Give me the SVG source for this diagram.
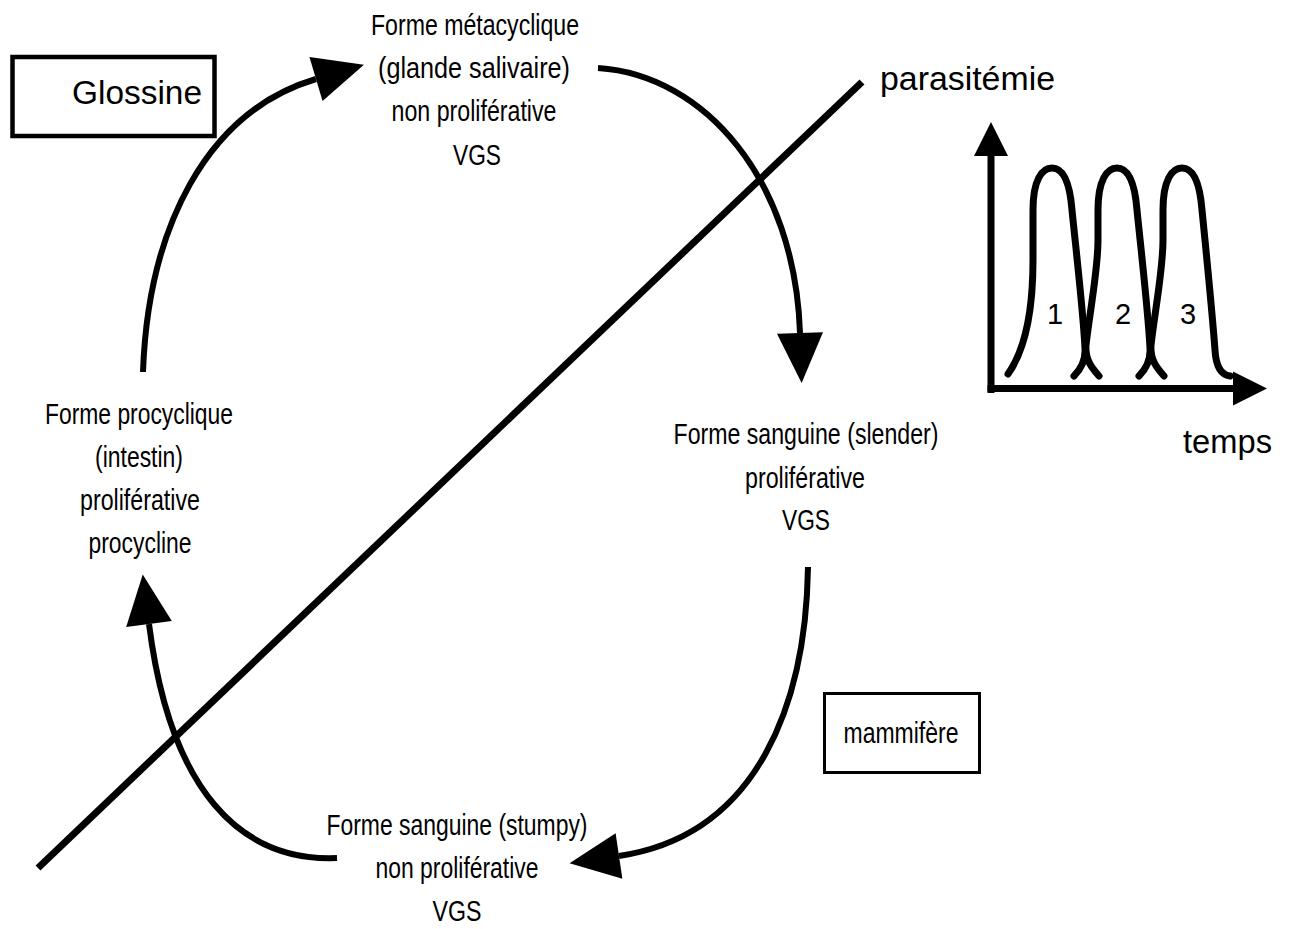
<svg xmlns="http://www.w3.org/2000/svg" width="1295" height="929" viewBox="0 0 1295 929">
<style>
.t{font-family:"Liberation Sans",Arial,sans-serif;font-size:29px;fill:#000;text-anchor:middle}
.big{font-family:"Liberation Sans",Arial,sans-serif;font-size:33px;fill:#000}
.conn{fill:none;stroke:#000;stroke-width:6}
.ax{fill:none;stroke:#000;stroke-width:7}
.pk{fill:none;stroke:#000;stroke-width:7;stroke-linecap:round;stroke-linejoin:round}
</style>
<defs>
<marker id="ah" markerUnits="userSpaceOnUse" viewBox="0 -23 50 46" refX="0" refY="0" markerWidth="50" markerHeight="46" orient="auto" overflow="visible">
<path d="M0,-23 L50,0 L0,23 Z" fill="#000"/>
</marker>
<marker id="axh" markerUnits="userSpaceOnUse" viewBox="0 -17 34 34" refX="0" refY="0" markerWidth="34" markerHeight="34" orient="auto" overflow="visible">
<path d="M0,-17 L34,0 L0,17 Z" fill="#000"/>
</marker>
</defs>
<rect width="1295" height="929" fill="#fff"/>

<g id="connectors">
<path class="conn" d="M143,372 C148,230 205,112 316,79" marker-end="url(#ah)"/>
<path class="conn" d="M598,68 C705,75 795,180 800,333" marker-end="url(#ah)"/>
<path class="conn" d="M808,567 C806,700 760,835 619,856" marker-end="url(#ah)"/>
<path class="conn" d="M337,858 C240,862 170,790 149,624" marker-end="url(#ah)"/>
</g>

<g id="diagonal">
<line x1="38" y1="868" x2="862" y2="82" stroke="#000" stroke-width="7"/>
</g>

<g id="glossine">
<rect x="12.5" y="57" width="202" height="79" fill="none" stroke="#000" stroke-width="4.5"/>
<text class="big" x="72" y="104" textLength="130" lengthAdjust="spacingAndGlyphs">Glossine</text>
</g>

<g id="metacyclique">
<text class="t" x="475" y="35" textLength="208" lengthAdjust="spacingAndGlyphs">Forme métacyclique</text>
<text class="t" x="474" y="78" textLength="192" lengthAdjust="spacingAndGlyphs">(glande salivaire)</text>
<text class="t" x="474" y="121" textLength="165" lengthAdjust="spacingAndGlyphs">non proliférative</text>
<text class="t" x="477" y="165" textLength="48" lengthAdjust="spacingAndGlyphs">VGS</text>
</g>

<g id="slender">
<text class="t" x="806" y="444" textLength="265" lengthAdjust="spacingAndGlyphs">Forme sanguine (slender)</text>
<text class="t" x="805" y="488" textLength="120" lengthAdjust="spacingAndGlyphs">proliférative</text>
<text class="t" x="806" y="530" textLength="48" lengthAdjust="spacingAndGlyphs">VGS</text>
</g>

<g id="mammifere">
<rect x="824.5" y="693.5" width="155" height="79" fill="none" stroke="#000" stroke-width="3"/>
<text class="t" x="901" y="743" textLength="115" lengthAdjust="spacingAndGlyphs">mammifère</text>
</g>

<g id="stumpy">
<text class="t" x="457" y="835" textLength="261" lengthAdjust="spacingAndGlyphs">Forme sanguine (stumpy)</text>
<text class="t" x="457" y="878" textLength="163" lengthAdjust="spacingAndGlyphs">non proliférative</text>
<text class="t" x="457" y="921" textLength="49" lengthAdjust="spacingAndGlyphs">VGS</text>
</g>

<g id="procyclique">
<text class="t" x="139" y="424" textLength="188" lengthAdjust="spacingAndGlyphs">Forme procyclique</text>
<text class="t" x="139" y="467" textLength="88" lengthAdjust="spacingAndGlyphs">(intestin)</text>
<text class="t" x="140" y="510" textLength="120" lengthAdjust="spacingAndGlyphs">proliférative</text>
<text class="t" x="140" y="553" textLength="103" lengthAdjust="spacingAndGlyphs">procycline</text>
</g>

<g id="graph">
<text class="big" x="880" y="90" textLength="175" lengthAdjust="spacingAndGlyphs">parasitémie</text>
<text class="big" x="1183" y="453" textLength="89" lengthAdjust="spacingAndGlyphs">temps</text>
<line class="ax" x1="991" y1="393" x2="991" y2="156" marker-end="url(#axh)"/>
<line class="ax" x1="987.5" y1="388.5" x2="1233" y2="388.5" marker-end="url(#axh)"/>
<path class="pk" d="M1008,374 C1025,350 1033,310 1033,260 L1033,210 C1033,180 1042,168 1052,168 C1064,168 1070,185 1072,210 C1076,250 1083,310 1085,348 C1086,362 1080,370 1074,376"/>
<path class="pk" d="M1099,376 C1092,368 1085,360 1086,345 C1090,310 1098,270 1098,240 L1098,210 C1098,180 1107,168 1117,168 C1129,168 1135,185 1137,210 C1141,250 1148,310 1150,348 C1151,362 1145,370 1139,376"/>
<path class="pk" d="M1164,376 C1157,368 1150,360 1151,345 C1155,310 1163,270 1163,240 L1163,210 C1163,180 1172,168 1182,168 C1194,168 1200,185 1202,210 C1206,250 1212,310 1215,350 C1216,368 1222,375 1230,376"/>
<text class="t" x="1055" y="324">1</text>
<text class="t" x="1123" y="324">2</text>
<text class="t" x="1188" y="324">3</text>
</g>
</svg>
